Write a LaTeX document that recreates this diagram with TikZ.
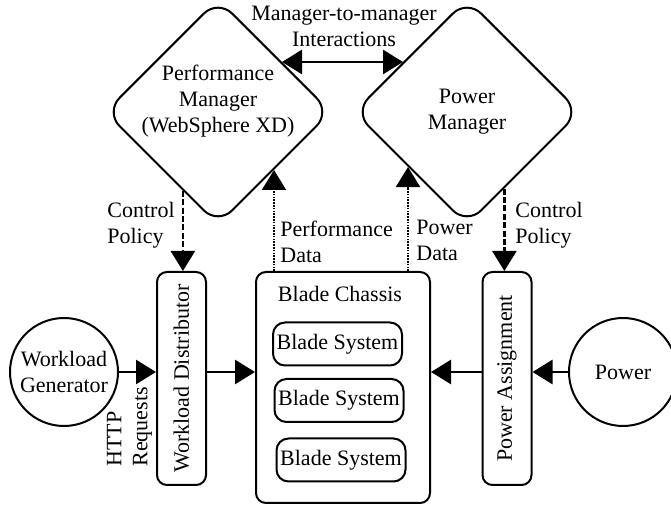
\documentclass[tikz,border=0pt]{standalone}
\usepackage{fontspec}
\setmainfont{Liberation Serif}
\usetikzlibrary{shapes.geometric}
\usetikzlibrary{arrows.meta}
\usetikzlibrary{calc}
\tikzset{manager/.style={draw,diamond,line width=#1,rounded corners=10pt,
	minimum width=113pt,minimum height=113pt,inner sep=0pt},manager/.default=1pt}
\tikzset{slab/.style={draw,rectangle,line width=1pt,rounded corners=5pt,
	minimum width=#1,minimum height=106.5pt,inner sep=0pt},slab/.default=24.5pt}
\tikzset{blade/.style={draw,rectangle,line width=1pt,rounded corners=6pt,
	minimum width=64.5pt,minimum height=21.5pt,inner sep=1pt}}
\tikzset{source/.style={draw,circle,line width=1pt,minimum size=54pt,inner sep=0pt}}
\tikzset{flow/.style={line width=#1,->},flow/.default=1.4pt}
\tikzset{control/.style={line width=1.2pt,dash pattern=on 3pt off 1.2pt,->}}
\tikzset{data/.style={line width=1pt,dash pattern=on 0.8pt off 0.6pt,->}}

\begin{document}
\begin{tikzpicture}[x=0.5pt,y=-0.5pt,>={Triangle[length=10pt,width=12pt]},
	font=\fontsize{11pt}{13pt}\selectfont]

	\useasboundingbox (0,0) rectangle (671,508);

	% Os dois gerentes
	\node [manager] (perf) at (218,112) {};
	\node [align=center] (perf text) at (218,101)
		{Performance\\Manager\\(WebSphere XD)};
	\node [manager] (pwr) at (467,112) {};
	\node [align=center] (pwr text) at (467,112) {Power\\Manager};

	% Interação entre os gerentes
	\draw [flow,<->] (perf.38) -- (pwr.142);
	\node [align=center] (m2m) at (344,26) {Manager-to-manager\\Interactions};

	% Distribuidor de carga e atribuição de energia
	\node [slab] (dist) at (181.5,378.5) {};
	\node [rotate=90] (dist text) at (dist) {Workload Distributor};
	\node [slab] (assign) at (507,378.5) {};
	\node [rotate=90] (assign text) at (assign) {Power Assignment};

	% O chassi com as lâminas
	\node [slab=87pt,minimum height=115.5pt] (chassis) at (343,387.5) {};
	\node (chassis text) at (340,294) {Blade Chassis};
	\node [blade] (blade a) at (337.5,344) {Blade System};
	\node [blade] (blade b) at (339,400.5) {Blade System};
	\node [blade] (blade c) at (341,460) {Blade System};

	% Gerador de carga e fonte de energia
	\node [source,align=center] (gen) at (64,372) {Workload\\Generator};
	\node [source] (power) at (623,372) {Power};

	% Fluxos horizontais
	\draw [flow] (gen.east) -- (gen.east -| dist.west);
	\draw [flow] (dist.east |- gen.east) -- (chassis.west |- gen.east);
	\draw [flow] (power.west) -- (power.west -| assign.east);
	\draw [flow] (assign.west |- power.west) -- (chassis.east |- power.west);
	\node [rotate=90,anchor=west,align=left,inner sep=0pt] (http)
		at (129.5,467) {HTTP\\Requests};

	% Políticas de controle
	\draw [control] (perf.246) -- (perf.246 |- dist.north);
	\node [anchor=west,align=left,inner sep=0pt] (ctrl a) at (107,225)
		{Control\\Policy};
	\draw [control] (pwr.296) -- (pwr.296 |- assign.north);
	\node [anchor=west,align=left,inner sep=0pt] (ctrl b) at (515,225)
		{Control\\Policy};

	% Dados de desempenho e de energia
	\draw [data] (perf.314 |- chassis.north) -- (perf.314);
	\node [anchor=west,align=left,inner sep=0pt] (perf data) at (280,242)
		{Performance\\Data};
	\draw [data] (pwr.223 |- chassis.north) -- (pwr.223);
	\node [anchor=west,align=left,inner sep=0pt] (pwr data) at (416,240)
		{Power\\Data};

\end{tikzpicture}
\end{document}
